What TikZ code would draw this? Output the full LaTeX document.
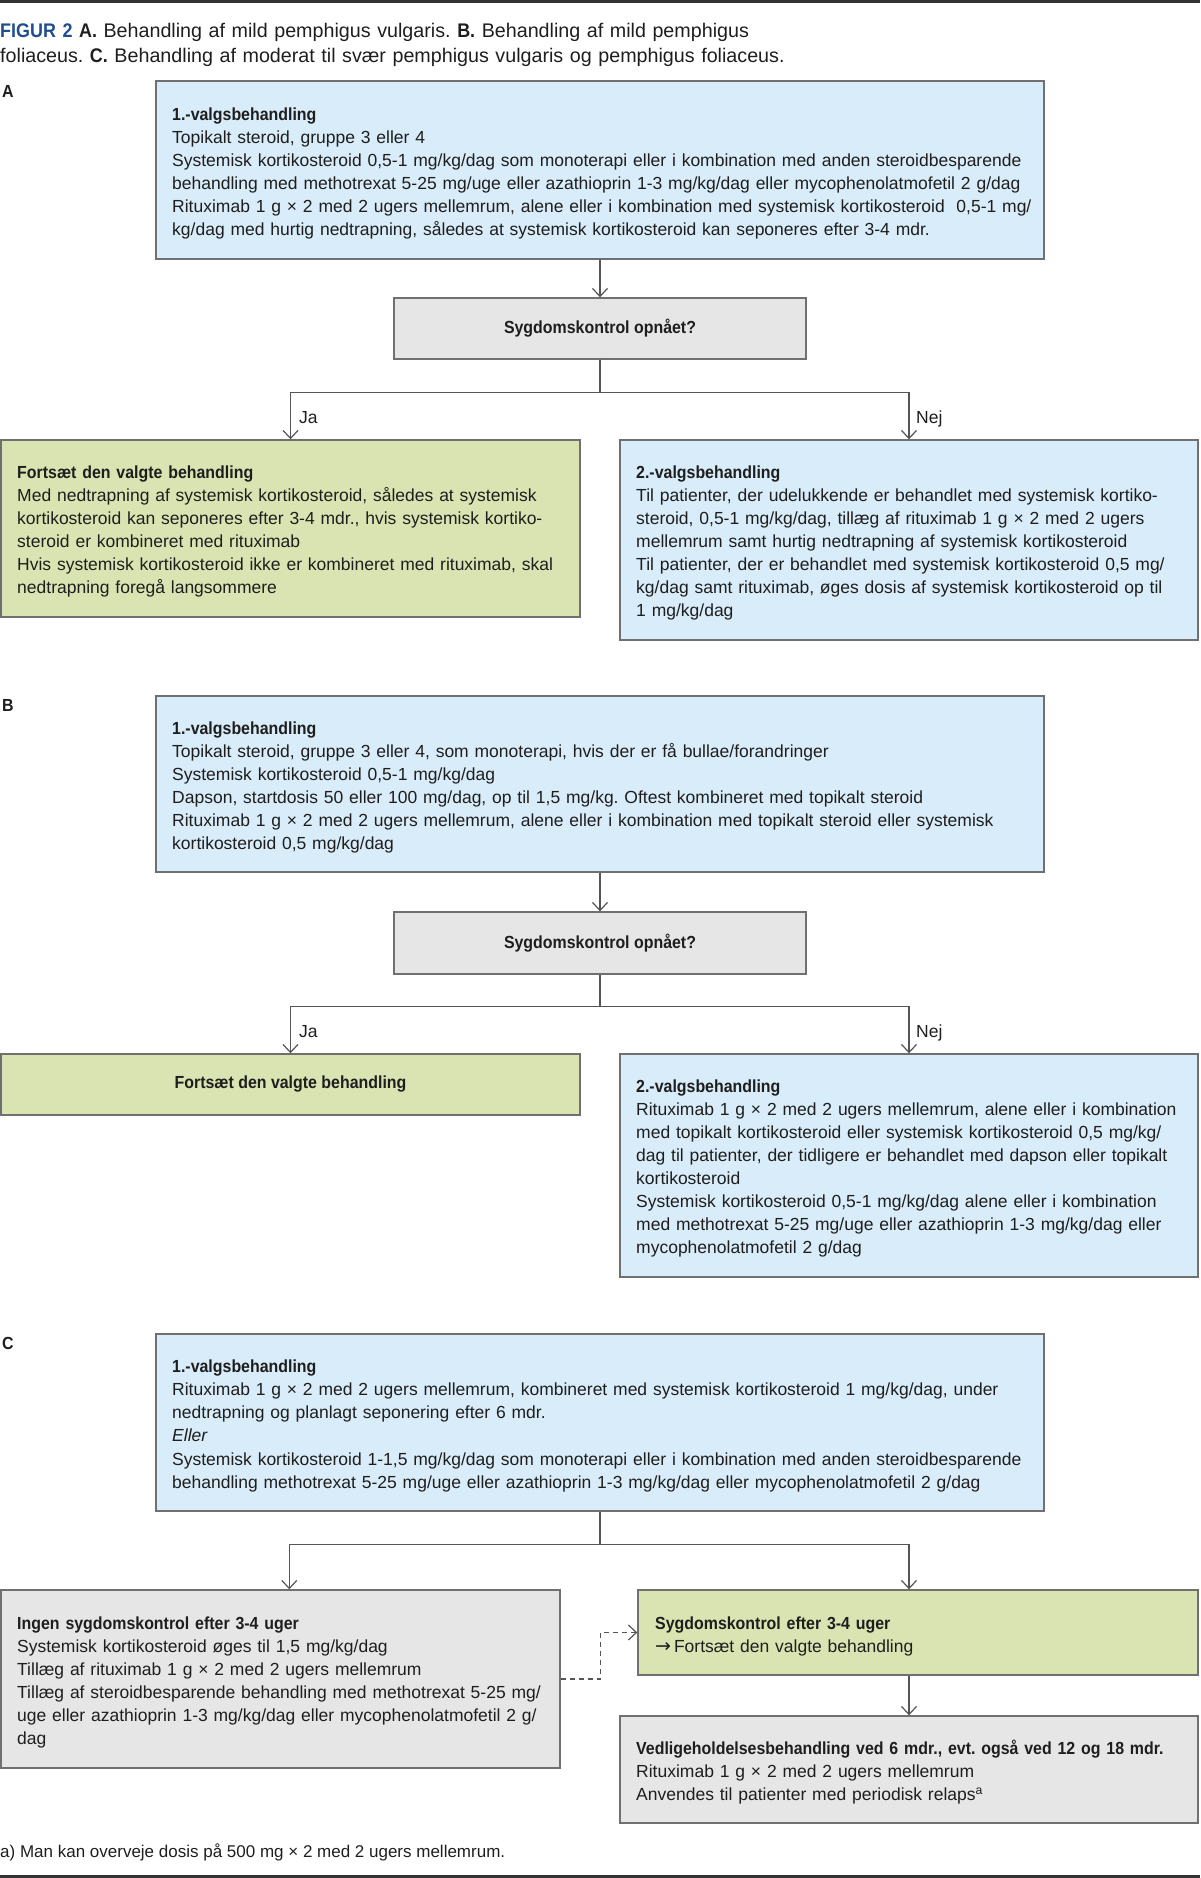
\documentclass[tikz,border=0pt]{standalone}
\usepackage{fontspec}
\setmainfont{Liberation Sans}[BoldFeatures={FakeStretch=0.91}]
\newfontfamily\arrowfont{DejaVu Sans}
\usetikzlibrary{arrows.meta}
\setlength{\parindent}{0pt}
\frenchspacing
\definecolor{boxblue}{HTML}{D9ECF9}
\definecolor{boxgreen}{HTML}{DAE4B2}
\definecolor{boxgray}{HTML}{E6E6E6}
\definecolor{edgecol}{HTML}{707070}
\definecolor{conncol}{HTML}{555555}
\definecolor{titleblue}{HTML}{1F4E8C}
\definecolor{ink}{HTML}{1E1E1E}
\definecolor{rulecol}{HTML}{333333}
\newcommand\bodyfont{\fontsize{17.5}{23.1}\selectfont}
\begin{document}
\begin{tikzpicture}[x=1pt,y=-1pt,
  every node/.style={text=ink},
  box/.style={draw=edgecol, line width=1.4pt, inner sep=0pt},
  bluebox/.style={box, fill=boxblue},
  greenbox/.style={box, fill=boxgreen},
  graybox/.style={box, fill=boxgray},
  tx/.style={anchor=north west, inner sep=0pt, text width=#1, align=left, font=\bodyfont},
  lbl/.style={anchor=base west, inner sep=0pt, font=\bodyfont},
  conn/.style={draw=conncol, line width=1.2pt},
  arr/.style={conn, -{Straight Barb[length=8pt,width=15pt]}},
  dasharr/.style={arr, dash pattern=on 5pt off 4pt}
]
\useasboundingbox (0,0) rectangle (1200,1878);
\draw[rulecol, line width=3pt] (0,2) -- (1200,2);
\draw[rulecol, line width=3pt] (0,1876) -- (1200,1876);

% title
\node[anchor=north west, inner sep=0pt, text width=1190pt, align=left, font=\fontsize{19.7}{25}\selectfont] (title) at (0,19.5)
 {\strut\textcolor{titleblue}{\textbf{FIGUR 2}} \textbf{A.} Behandling af mild pemphigus vulgaris. \textbf{B.} Behandling af mild pemphigus\\
 foliaceus. \textbf{C.} Behandling af moderat til svær pemphigus vulgaris og pemphigus foliaceus.};

% ================= A =================
\node[lbl, font=\bodyfont\bfseries] (labA) at (2,97.3) {A};
\node[bluebox, minimum width=888pt, minimum height=178pt] (a1) at (600,170) {};
\node[tx=870pt] (a1t) at (172,103.8) {\strut\textbf{1.-valgsbehandling}\\
Topikalt steroid, gruppe 3 eller 4\\
Systemisk kortikosteroid 0,5-1 mg/kg/dag som monoterapi eller i kombination med anden steroidbesparende\\
behandling med methotrexat 5-25 mg/uge eller azathioprin 1-3 mg/kg/dag eller mycophenolatmofetil 2 g/dag\\
Rituximab 1 g × 2 med 2 ugers mellemrum, alene eller i kombination med systemisk kortikosteroid \ 0,5-1 mg/\\
kg/dag med hurtig nedtrapning, således at systemisk kortikosteroid kan seponeres efter 3-4 mdr.};

\node[graybox, minimum width=412pt, minimum height=61pt, font=\bodyfont\bfseries] (da) at (600,328.5) {Sygdomskontrol opnået?};
\draw[arr] (a1.south) -- (da.north);
\draw[conn] (da.south) -- ++(0,33) coordinate (ja);

\node[greenbox, minimum width=579pt, minimum height=177pt] (ga) at (290.5,528.5) {};
\node[bluebox, minimum width=578pt, minimum height=200pt] (ba) at (909,540) {};
\draw[arr] (ja) -| (ga.north);
\draw[arr] (ja) -| (ba.north);
\node[lbl] (jaA) at (299,423) {Ja};
\node[lbl] (nejA) at (916,423) {Nej};

\node[tx=560pt] (gat) at (17,461.8) {\strut\textbf{Fortsæt den valgte behandling}\\
Med nedtrapning af systemisk kortikosteroid, således at systemisk\\
kortikosteroid kan seponeres efter 3-4 mdr., hvis systemisk kortiko-\\
steroid er kombineret med rituximab\\
Hvis systemisk kortikosteroid ikke er kombineret med rituximab, skal\\
nedtrapning foregå langsommere};

\node[tx=560pt] (bat) at (636,461.8) {\strut\textbf{2.-valgsbehandling}\\
Til patienter, der udelukkende er behandlet med systemisk kortiko-\\
steroid, 0,5-1 mg/kg/dag, tillæg af rituximab 1 g × 2 med 2 ugers\\
mellemrum samt hurtig nedtrapning af systemisk kortikosteroid\\
Til patienter, der er behandlet med systemisk kortikosteroid 0,5 mg/\\
kg/dag samt rituximab, øges dosis af systemisk kortikosteroid op til\\
1 mg/kg/dag};

% ================= B =================
\node[lbl, font=\bodyfont\bfseries] (labB) at (2,711.3) {B};
\node[bluebox, minimum width=888pt, minimum height=176pt] (b1) at (600,784) {};
\node[tx=870pt] (b1t) at (172,717.8) {\strut\textbf{1.-valgsbehandling}\\
Topikalt steroid, gruppe 3 eller 4, som monoterapi, hvis der er få bullae/forandringer\\
Systemisk kortikosteroid 0,5-1 mg/kg/dag\\
Dapson, startdosis 50 eller 100 mg/dag, op til 1,5 mg/kg. Oftest kombineret med topikalt steroid\\
Rituximab 1 g × 2 med 2 ugers mellemrum, alene eller i kombination med topikalt steroid eller systemisk\\
kortikosteroid 0,5 mg/kg/dag};

\node[graybox, minimum width=412pt, minimum height=62pt, font=\bodyfont\bfseries] (db) at (600,943) {Sygdomskontrol opnået?};
\draw[arr] (b1.south) -- (db.north);
\draw[conn] (db.south) -- ++(0,32) coordinate (jb);

\node[greenbox, minimum width=579pt, minimum height=61pt, font=\bodyfont\bfseries] (gb) at (290.5,1084.5) {Fortsæt den valgte behandling};
\node[bluebox, minimum width=578pt, minimum height=223pt] (bb) at (909,1165.5) {};
\draw[arr] (jb) -| (gb.north);
\draw[arr] (jb) -| (bb.north);
\node[lbl] (jaB) at (299,1037) {Ja};
\node[lbl] (nejB) at (916,1037) {Nej};

\node[tx=560pt] (bbt) at (636,1075.8) {\strut\textbf{2.-valgsbehandling}\\
Rituximab 1 g × 2 med 2 ugers mellemrum, alene eller i kombination\\
med topikalt kortikosteroid eller systemisk kortikosteroid 0,5 mg/kg/\\
dag til patienter, der tidligere er behandlet med dapson eller topikalt\\
kortikosteroid\\
Systemisk kortikosteroid 0,5-1 mg/kg/dag alene eller i kombination\\
med methotrexat 5-25 mg/uge eller azathioprin 1-3 mg/kg/dag eller\\
mycophenolatmofetil 2 g/dag};

% ================= C =================
\node[lbl, font=\bodyfont\bfseries] (labC) at (2,1349.3) {C};
\node[bluebox, minimum width=888pt, minimum height=177pt] (c1) at (600,1422.5) {};
\node[tx=870pt] (c1t) at (172,1356.3) {\strut\textbf{1.-valgsbehandling}\\
Rituximab 1 g × 2 med 2 ugers mellemrum, kombineret med systemisk kortikosteroid 1 mg/kg/dag, under\\
nedtrapning og planlagt seponering efter 6 mdr.\\
\textit{Eller}\\
Systemisk kortikosteroid 1-1,5 mg/kg/dag som monoterapi eller i kombination med anden steroidbesparende\\
behandling methotrexat 5-25 mg/uge eller azathioprin 1-3 mg/kg/dag eller mycophenolatmofetil 2 g/dag};

\draw[conn] (c1.south) -- ++(0,33) coordinate (jc);
\node[graybox, minimum width=559pt, minimum height=178pt] (gc) at (280.5,1679) {};
\node[greenbox, minimum width=560pt, minimum height=85pt] (gcr) at (918,1632.5) {};
\node[graybox, minimum width=578pt, minimum height=107pt] (gc2) at (909,1769.5) {};
\draw[arr] (jc) -| ([xshift=289pt]gc.north west);
\draw[arr] (jc) -| ([xshift=-9pt]gcr.north);
\draw[arr] (gc2.north |- gcr.south) -- (gc2.north);
\draw[dasharr] (gc.east) -- ++(40,0) |- (gcr.west);

\node[tx=540pt] (gct) at (17,1612.8) {\strut\textbf{Ingen sygdomskontrol efter 3-4 uger}\\
Systemisk kortikosteroid øges til 1,5 mg/kg/dag\\
Tillæg af rituximab 1 g × 2 med 2 ugers mellemrum\\
Tillæg af steroidbesparende behandling med methotrexat 5-25 mg/\\
uge eller azathioprin 1-3 mg/kg/dag eller mycophenolatmofetil 2 g/\\
dag};

\node[tx=530pt] (gcrt) at (655,1612.8) {\strut\textbf{Sygdomskontrol efter 3-4 uger}\\
{\arrowfont\fontsize{19}{23.1}\selectfont →}\,Fortsæt den valgte behandling};

\node[tx=570pt] (gc2t) at (636,1737.8) {\strut\textbf{Vedligeholdelsesbehandling ved 6 mdr., evt. også ved 12 og 18 mdr.}\\
Rituximab 1 g × 2 med 2 ugers mellemrum\\
Anvendes til patienter med periodisk relaps\textsuperscript{a}};

\node[lbl, font=\fontsize{17}{22}\selectfont] (foot) at (0,1857) {a) Man kan overveje dosis på 500 mg × 2 med 2 ugers mellemrum.};
\end{tikzpicture}
\end{document}
